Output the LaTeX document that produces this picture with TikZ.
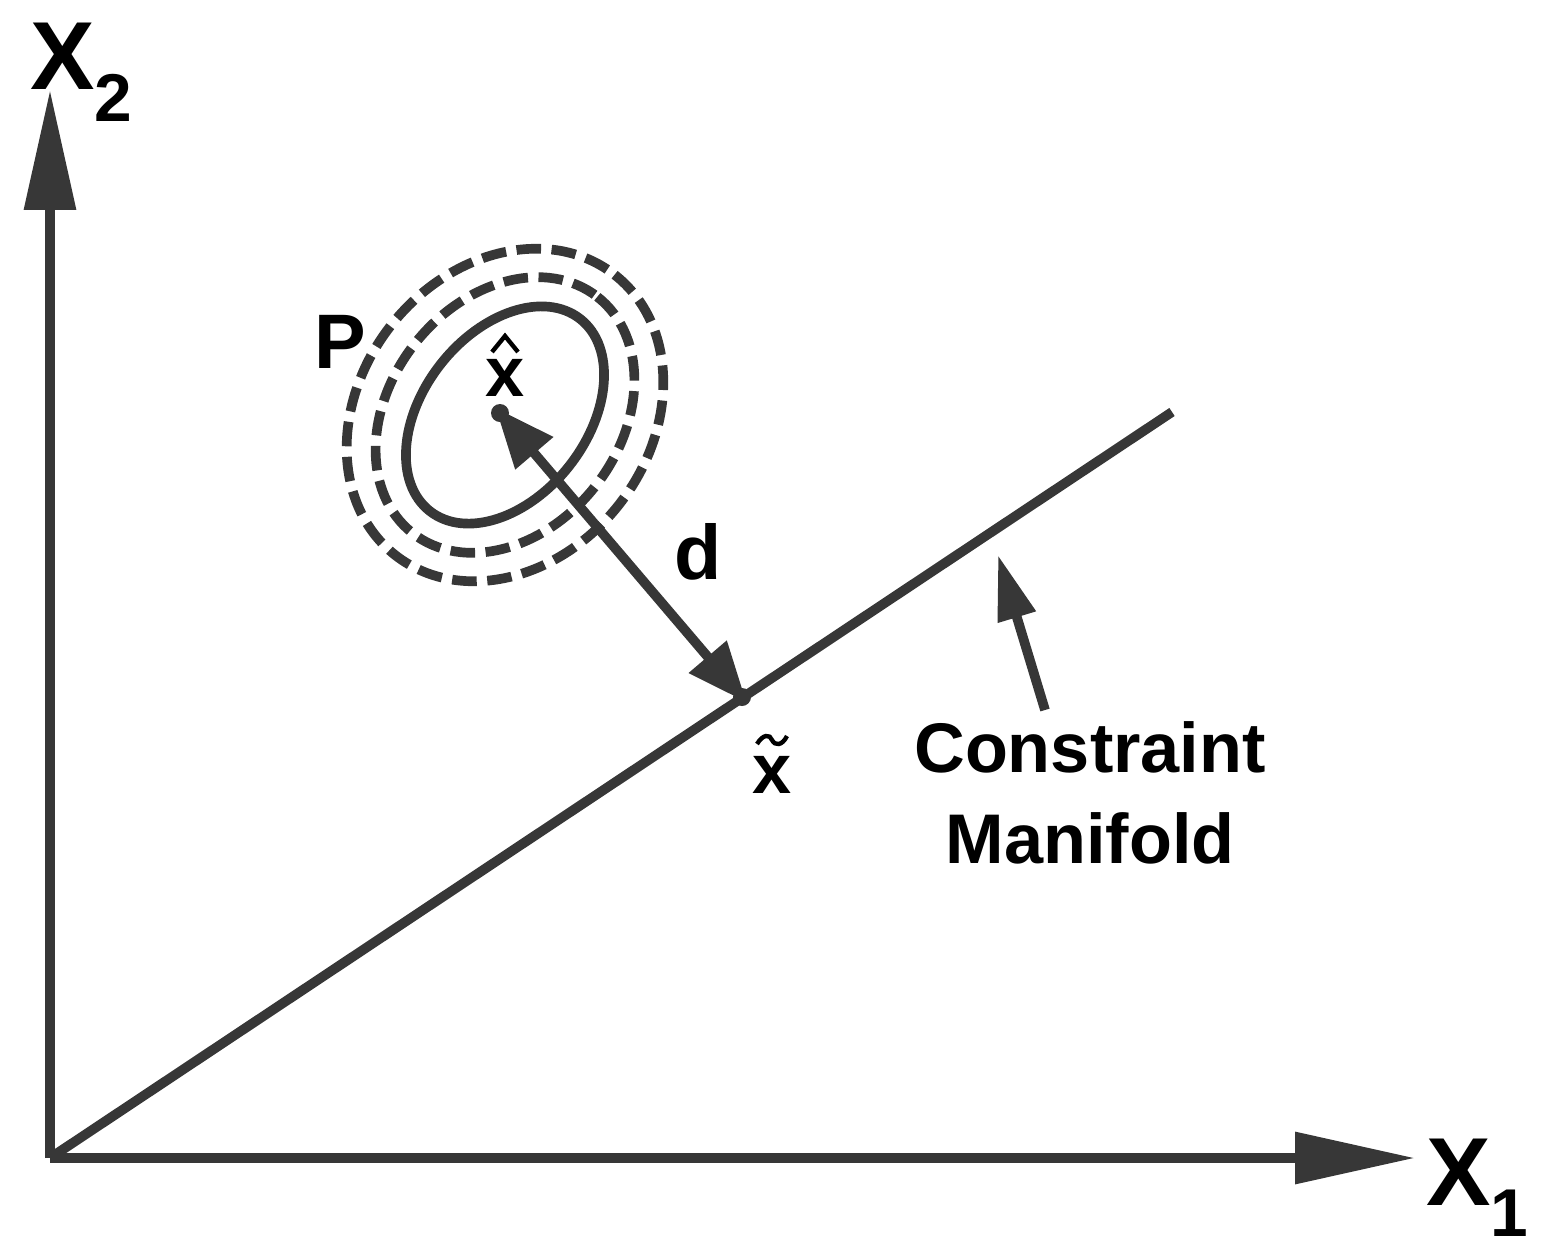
\documentclass[tikz,border=0pt]{standalone}
\usepackage{fontspec}
\setmainfont{Liberation Sans}
\usetikzlibrary{arrows.meta}
\definecolor{ink}{RGB}{55,55,55}
\begin{document}
\begin{tikzpicture}[x=0.02cm,y=-0.02cm,
  ln/.style={draw=ink,line width=5.5pt},
  acc/.style={draw=black,line width=2.5pt},
  big/.style={-{Triangle[length=2.4cm,width=1.0cm]}},
  mid/.style={{Triangle[length=1.2cm,width=0.95cm]}-{Triangle[length=1.2cm,width=0.95cm]}},
  sm/.style={-{Triangle[length=1.3cm,width=0.75cm]}},
  lab/.style={text=black,font=\bfseries,inner sep=0pt}]
\useasboundingbox (0,0) rectangle (1549,1255);
\coordinate (O) at (50,1158);
\coordinate (Y) at (50,90);
\coordinate (X) at (1415,1158);
\coordinate (M) at (1172,412);
\coordinate (h) at (500,413);
\coordinate (t) at (742,697);
\coordinate (c) at (505,415);
\draw[ln,big] (O) -- (Y);
\draw[ln,big] (O) -- (X);
\draw[ln] (O) -- (M);
\draw[ln] (c) ellipse[x radius=122,y radius=82,rotate=52];
\draw[ln,dash pattern=on 14pt off 6pt] (c) ellipse[x radius=150,y radius=115,rotate=52];
\draw[ln,dash pattern=on 14pt off 6pt] (c) ellipse[x radius=178,y radius=145,rotate=52];
\draw[ln,mid,shorten <=-4pt,shorten >=-4pt] (h) -- (t);
\fill[ink] (h) circle (0.18cm);
\fill[ink] (t) circle (0.18cm);
\coordinate (a0) at (1045,710);
\coordinate (a1) at (998,555);
\draw[ln,sm] (a0) -- (a1);
\node[lab,font=\bfseries\fontsize{55}{60}\selectfont] (x2) at (82,72) {X\textsubscript{2}};
\node[lab,font=\bfseries\fontsize{55}{60}\selectfont] (x1) at (1478,1188) {X\textsubscript{1}};
\node[lab,font=\bfseries\fontsize{44}{50}\selectfont] (P) at (340,342) {P};
\node[lab,font=\bfseries\fontsize{40}{44}\selectfont] (xh) at (505,378) {x};
\draw[acc] (492,352) -- (505,336) -- (518,352);
\node[lab,font=\bfseries\fontsize{44}{50}\selectfont] (d) at (698,552) {d};
\node[lab,font=\bfseries\fontsize{40}{44}\selectfont] (xt) at (772,775) {x};
\draw[acc] (757,744) .. controls (763,734) and (770,734) .. (772,740) .. controls (775,746) and (782,746) .. (787,736);
\node[lab,font=\bfseries\fontsize{40}{52}\selectfont,align=center] (cm) at (1090,793) {Constraint\\Manifold};
\end{tikzpicture}
\end{document}
